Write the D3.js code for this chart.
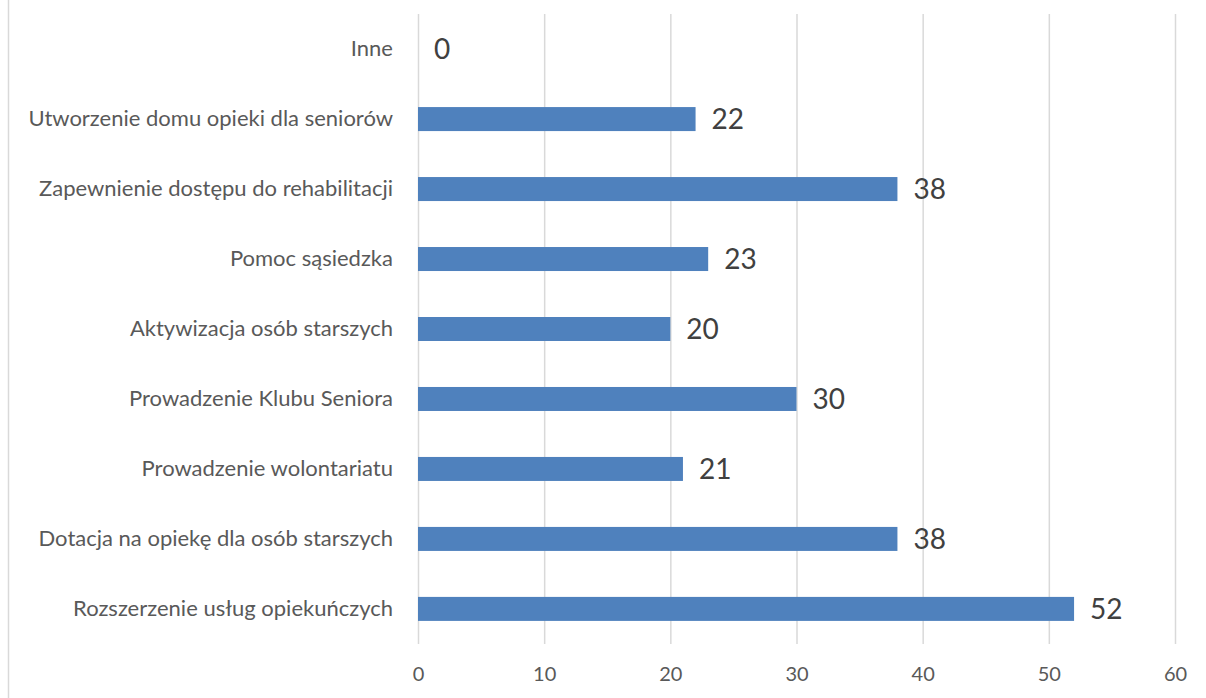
<!DOCTYPE html>
<html>
<head>
<meta charset="utf-8">
<script src="https://cdn.jsdelivr.net/npm/d3@7"></script>
<style>
  body { margin: 0; background: #fff; }
  svg { display: block; font-family: Lato, "Open Sans", sans-serif; }
</style>
</head>
<body>
<svg></svg>
<script>
var width   = 1206;
var height  = 698;
var left    = 418;
var right   = 1175;
var top_    = 14;
var bottom  = 644;

var categories = [
    'Inne',
    'Utworzenie domu opieki dla seniorów',
    'Zapewnienie dostępu do rehabilitacji',
    'Pomoc sąsiedzka',
    'Aktywizacja osób starszych',
    'Prowadzenie Klubu Seniora',
    'Prowadzenie wolontariatu',
    'Dotacja na opiekę dla osób starszych',
    'Rozszerzenie usług opiekuńczych'
];
var values = [0, 22, 38, 23, 20, 30, 21, 38, 52];
var xTicks = [0, 10, 20, 30, 40, 50, 60];

var data = categories.map((c, i) => ({name: c, value: values[i]}));

var svg = d3.select('svg')
        .attr('width', width)
        .attr('height', height);

var xScale = d3.scaleLinear()
                    .domain([0, 60])
                    .range([left, right]);

var yScale = d3.scaleBand()
                    .domain(categories)
                    .range([top_, bottom])
                    .paddingInner(0.657)
                    .paddingOuter(0.33);

// chart frame (only the left edge shows)
svg.append('line')
        .attr('x1', 8.5).attr('x2', 8.5)
        .attr('y1', 0).attr('y2', height)
        .attr('stroke', '#d9d9d9')
        .attr('stroke-width', 1.5);

var xAxis = d3.axisBottom(xScale)
                    .tickValues(xTicks)
                    .tickSize(-(bottom - top_))
                    .tickSizeOuter(0)
                    .tickPadding(23);

var gx = svg.append('g')
        .attr('transform', 'translate(0,' + bottom + ')')
        .call(xAxis);
gx.select('.domain').remove();
gx.selectAll('.tick line')
        .attr('stroke', '#d9d9d9')
        .attr('stroke-width', 1.5);
gx.selectAll('.tick text')
        .attr('fill', '#595959')
        .attr('font-size', '20px')
        .attr('font-family', 'Lato, sans-serif');

var yAxis = d3.axisLeft(yScale)
                    .tickSize(0)
                    .tickPadding(25);

var gy = svg.append('g')
        .attr('transform', 'translate(' + left + ',0)')
        .call(yAxis);
gy.select('.domain').remove();
gy.selectAll('.tick text')
        .attr('fill', '#595959')
        .attr('font-size', '22px')
        .attr('font-family', 'Lato, sans-serif');

svg.append('g')
    .selectAll('rect')
    .data(data)
    .enter()
    .append('rect')
        .attr('x', xScale(0))
        .attr('y', d => yScale(d.name))
        .attr('width', d => xScale(d.value) - xScale(0))
        .attr('height', yScale.bandwidth())
        .attr('fill', '#4f81bd');

svg.append('g')
    .selectAll('text')
    .data(data)
    .enter()
    .append('text')
        .attr('x', d => xScale(d.value) + 16)
        .attr('y', d => yScale(d.name) + yScale.bandwidth() / 2)
        .attr('dy', '0.36em')
        .attr('fill', '#404040')
        .attr('font-size', '28px')
        .text(d => d.value);
</script>
</body>
</html>
